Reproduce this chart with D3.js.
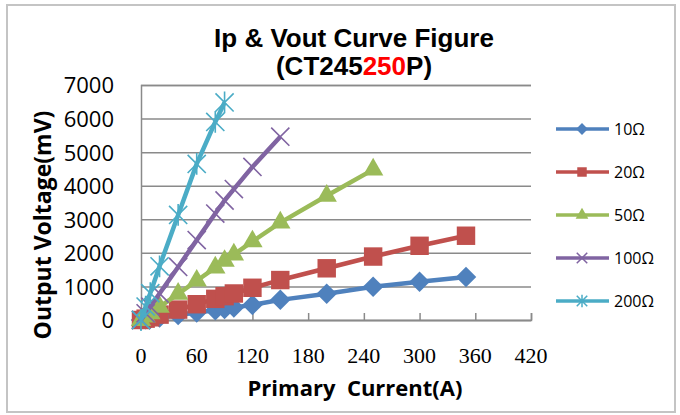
<!DOCTYPE html>
<html>
<head>
<meta charset="utf-8">
<script src="https://cdn.jsdelivr.net/npm/d3@7"></script>
<style>
  body { margin: 0; background: #fff; }
  svg { display: block; }
  svg text.xtick { font-family: "Liberation Serif", "Times New Roman", serif !important; }
</style>
</head>
<body>
<script>
// data
const currents = [0, 5, 10, 20, 40, 60, 80, 90, 100, 120, 150, 200, 250, 300, 350];
const v10 = [0, 20, 40, 75, 150, 220, 290, 330, 370, 450, 600, 780, 990, 1140, 1280];
const v20 = [0, 40, 80, 160, 310, 470, 630, 710, 790, 960, 1190, 1540, 1890, 2210, 2510];
const v50 = [0, 100, 200, 390, 780, 1170, 1560, 1760, 1950, 2340, 2900, 3700, 4480];
const v100 = [0, 200, 400, 790, 1580, 2380, 3170, 3560, 3900, 4560, 5460];
const v200 = [0, 400, 800, 1600, 3130, 4650, 5900, 6480];
const seriesNames = ["10Ω", "20Ω", "50Ω", "100Ω", "200Ω"];
const xTicks = [0, 60, 120, 180, 240, 300, 360, 420];
const yTicks = [0, 1000, 2000, 3000, 4000, 5000, 6000, 7000];

const colors = ["#4f81bd", "#c0504d", "#9bbb59", "#8064a2", "#4bacc6"];

const W = 680, H = 415;
const margin = { left: 141, right: 149, top: 85, bottom: 95 };

const svg = d3.select("body").append("svg").attr("width", W).attr("height", H);

// outer chart border
svg.append("rect")
  .attr("x", 7).attr("y", 5).attr("width", 668).attr("height", 407)
  .attr("fill", "none").attr("stroke", "#c4c4c4").attr("stroke-width", 2);

const x = d3.scaleLinear().domain([0, 420]).range([margin.left, W - margin.right]);
const y = d3.scaleLinear().domain([0, 7000]).range([H - margin.bottom, margin.top]);

// gridlines + y labels
const yAxis = svg.append("g")
  .attr("transform", `translate(${margin.left},0)`)
  .call(d3.axisLeft(y).tickValues(yTicks).tickFormat(d3.format("d"))
    .tickSize(-(x(420) - x(0))).tickPadding(27));
yAxis.select(".domain").attr("stroke", "#8a8a8a").attr("stroke-width", 1.5);
yAxis.selectAll(".tick line").attr("stroke", "#8a8a8a").attr("stroke-width", 1.5);
yAxis.selectAll(".tick text")
  .attr("font-family", "'Open Sans', sans-serif").attr("font-size", 22)
  .attr("fill", "#000").attr("dy", "0.36em");

// x axis with inner ticks, labels drawn in a serif face
const xAxis = svg.append("g")
  .attr("transform", `translate(0,${y(0)})`)
  .call(d3.axisBottom(x).tickValues(xTicks).tickSize(-7).tickFormat(""));
xAxis.select(".domain").attr("stroke", "#8a8a8a").attr("stroke-width", 1.5);
xAxis.selectAll(".tick line").attr("stroke", "#8a8a8a").attr("stroke-width", 1.5);

svg.append("g")
  .selectAll("text")
  .data(xTicks)
  .join("text")
  .attr("class", "xtick")
  .attr("x", d => x(d))
  .attr("y", y(0) + 43)
  .attr("text-anchor", "middle")
  .attr("font-size", 22)
  .text(d => d);

// marker shapes
const diamond = { draw(ctx, size) {
  const r = Math.sqrt(size / 2);
  ctx.moveTo(0, -r); ctx.lineTo(r, 0); ctx.lineTo(0, r); ctx.lineTo(-r, 0); ctx.closePath();
} };
const cross = { draw(ctx, size) {
  const r = Math.sqrt(size) / 2;
  ctx.moveTo(-r, -r); ctx.lineTo(r, r); ctx.moveTo(r, -r); ctx.lineTo(-r, r);
} };
const star = { draw(ctx, size) {
  const r = Math.sqrt(size) / 2;
  ctx.moveTo(-r, -r); ctx.lineTo(r, r); ctx.moveTo(r, -r); ctx.lineTo(-r, r);
  ctx.moveTo(0, -r * 1.2); ctx.lineTo(0, r * 1.2);
} };
const shapes = [diamond, d3.symbolSquare, d3.symbolTriangle, cross, star];
const sizes = [210, 340, 180, 330, 330];
const legendSizes = [70, 90, 70, 110, 110];
const filled = [true, true, true, false, false];

const allValues = [v10, v20, v50, v100, v200];
const series = allValues.map((vals, i) => ({
  name: seriesNames[i],
  points: vals.map((v, j) => [currents[j], v])
}));

const line = d3.line().x(d => x(d[0])).y(d => y(d[1]));

series.forEach((s, i) => {
  const g = svg.append("g");
  g.append("path")
    .datum(s.points)
    .attr("d", line)
    .attr("fill", "none")
    .attr("stroke", colors[i])
    .attr("stroke-width", 4.5)
    .attr("stroke-linejoin", "round");
  g.selectAll("path.mark")
    .data(s.points)
    .join("path")
    .attr("class", "mark")
    .attr("transform", d => `translate(${x(d[0])},${y(d[1])})`)
    .attr("d", d3.symbol().type(shapes[i]).size(sizes[i]))
    .attr("fill", filled[i] ? colors[i] : "none")
    .attr("stroke", colors[i])
    .attr("stroke-width", filled[i] ? 0 : 1.6);
});

// legend
const legend = svg.append("g");
series.forEach((s, i) => {
  const ly = 129 + i * 43;
  legend.append("line")
    .attr("x1", 556).attr("x2", 609).attr("y1", ly).attr("y2", ly)
    .attr("stroke", colors[i]).attr("stroke-width", 3.5);
  legend.append("path")
    .attr("transform", `translate(582,${ly})`)
    .attr("d", d3.symbol().type(shapes[i]).size(legendSizes[i]))
    .attr("fill", filled[i] ? colors[i] : "none")
    .attr("stroke", colors[i])
    .attr("stroke-width", filled[i] ? 0 : 1.5);
  legend.append("text")
    .attr("x", 614).attr("y", ly).attr("dy", "0.36em")
    .attr("font-family", "'Open Sans', sans-serif").attr("font-size", 16)
    .text(s.name);
});

// titles
const title = svg.append("text")
  .attr("text-anchor", "middle")
  .attr("font-family", "'Liberation Sans', Arial, sans-serif")
  .attr("font-weight", "bold").attr("font-size", 26);
title.append("tspan").attr("x", 354).attr("y", 47).text("Ip & Vout Curve Figure");
const t2 = title.append("tspan").attr("x", 354).attr("y", 75);
t2.append("tspan").text("(CT245");
t2.append("tspan").attr("fill", "#ff0000").text("250");
t2.append("tspan").text("P)");

svg.append("text")
  .attr("x", 355).attr("y", 396)
  .attr("text-anchor", "middle")
  .attr("font-family", "'Open Sans', sans-serif")
  .attr("font-weight", "bold").attr("font-size", 22)
  .style("white-space", "pre")
  .text("Primary  Current(A)");

svg.append("text")
  .attr("transform", "translate(51,225) rotate(-90)")
  .attr("text-anchor", "middle")
  .attr("font-family", "'Open Sans', sans-serif")
  .attr("font-weight", "bold").attr("font-size", 23)
  .text("Output Voltage(mV)");
</script>
</body>
</html>
